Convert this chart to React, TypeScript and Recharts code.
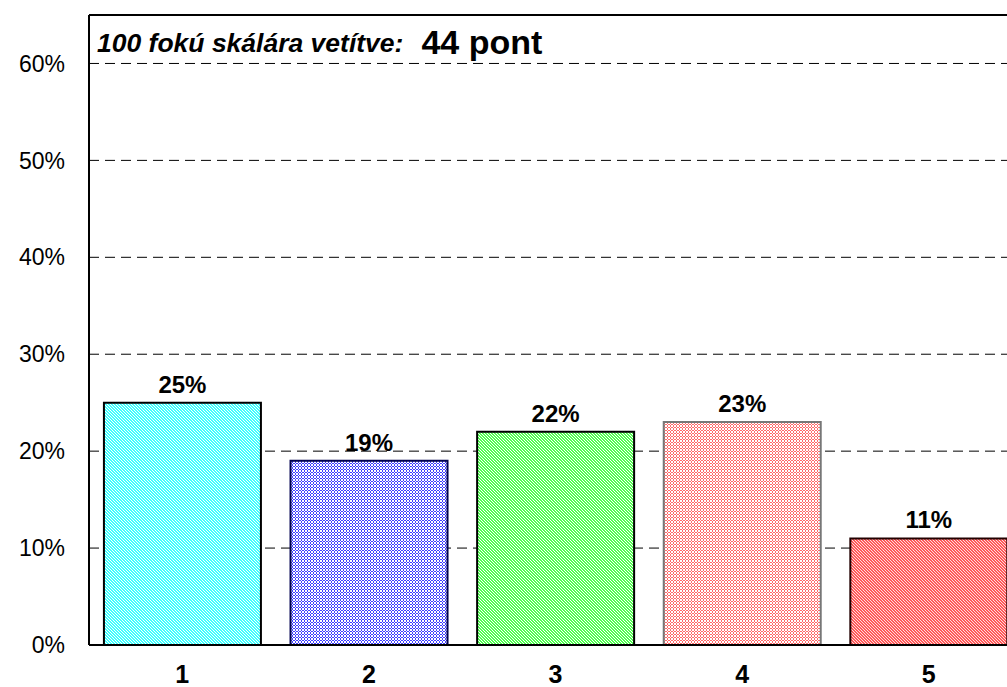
import React from "react";
import {
  Bar,
  BarChart,
  CartesianGrid,
  Cell,
  Customized,
  LabelList,
  ReferenceLine,
  XAxis,
  YAxis,
} from "recharts";

const categories = ["1", "2", "3", "4", "5"];
const shares = [25, 19, 22, 23, 11];
const yTicks = [0, 10, 20, 30, 40, 50, 60];

const data = categories.map((c, i) => ({ cat: c, value: shares[i] }));

// dithered fills like the original: base colour with white pixels
const barStyles = [
  { id: "pat1", base: "#40ffff", dot: "#ffffff", dense: false, stroke: "#000000" },
  { id: "pat2", base: "#4040ff", dot: "#ffffff", dense: true, stroke: "#000050" },
  { id: "pat3", base: "#50ff50", dot: "#ffffff", dense: false, stroke: "#000000" },
  { id: "pat4", base: "#ff6a6a", dot: "#ffffff", dense: true, stroke: "#777777" },
  { id: "pat5", base: "#ff5a5a", dot: "#ffdddd", dense: false, stroke: "#220000" },
];

const lightPx = [
  [0, 0],
  [1, 1],
  [2, 2],
];
const extraPx = [
  [2, 0],
  [0, 2],
];

const font = "Arial, 'Liberation Sans', sans-serif";

const Title = () => (
  <text x={97} y={52} fontFamily={font} fill="#000">
    <tspan fontSize={26.5} fontWeight="bold" fontStyle="italic">
      100 fokú skálára vetítve:
    </tspan>
    <tspan dx={18} dy={2} fontSize={34} fontWeight="bold">
      44 pont
    </tspan>
  </text>
);

export default function App() {
  return (
    <div
      style={{
        position: "absolute",
        left: 0,
        top: 0,
        width: 1007,
        height: 687,
        overflow: "hidden",
        background: "#fff",
      }}
    >
      <BarChart
        width={1030}
        height={687}
        data={data}
        margin={{ top: 15, right: 8, bottom: 0, left: 0 }}
        barCategoryGap="8%"
      >
        <defs>
          {barStyles.map((s) => (
            <pattern
              key={s.id}
              id={s.id}
              width={3}
              height={3}
              patternUnits="userSpaceOnUse"
            >
              <rect width={3} height={3} fill={s.base} shapeRendering="crispEdges" />
              {(s.dense ? [...lightPx, ...extraPx] : lightPx).map(([x, y]) => (
                <rect
                  key={`${x}-${y}`}
                  x={x}
                  y={y}
                  width={1}
                  height={1}
                  fill={s.dot}
                  shapeRendering="crispEdges"
                />
              ))}
            </pattern>
          ))}
        </defs>
        <CartesianGrid
          vertical={false}
          stroke="#000"
          strokeDasharray="10 6"
          horizontalValues={[10, 20, 30, 40, 50, 60]}
        />
        <XAxis
          dataKey="cat"
          height={42}
          axisLine={{ stroke: "#000", strokeWidth: 2 }}
          tickLine={false}
          tick={{ fill: "#000", fontSize: 25, fontWeight: "bold", fontFamily: font }}
          tickMargin={14}
        />
        <YAxis
          width={89}
          domain={[0, 65]}
          ticks={yTicks}
          allowDataOverflow
          axisLine={{ stroke: "#000", strokeWidth: 2 }}
          tickLine={false}
          tickFormatter={(v: number) => `${v}%`}
          tick={{ fill: "#000", fontSize: 23, fontFamily: font }}
          tickMargin={18}
        />
        <ReferenceLine y={65} stroke="#000" strokeWidth={2} />
        <Bar dataKey="value" isAnimationActive={false} strokeWidth={2}>
          {data.map((d, i) => (
            <Cell
              key={d.cat}
              fill={`url(#${barStyles[i].id})`}
              stroke={barStyles[i].stroke}
            />
          ))}
          <LabelList
            dataKey="value"
            position="top"
            offset={10}
            formatter={(v: any) => `${v}%`}
            style={{ fill: "#000", fontSize: 24, fontWeight: "bold", fontFamily: font }}
          />
        </Bar>
        <Customized component={Title} />
      </BarChart>
    </div>
  );
}
